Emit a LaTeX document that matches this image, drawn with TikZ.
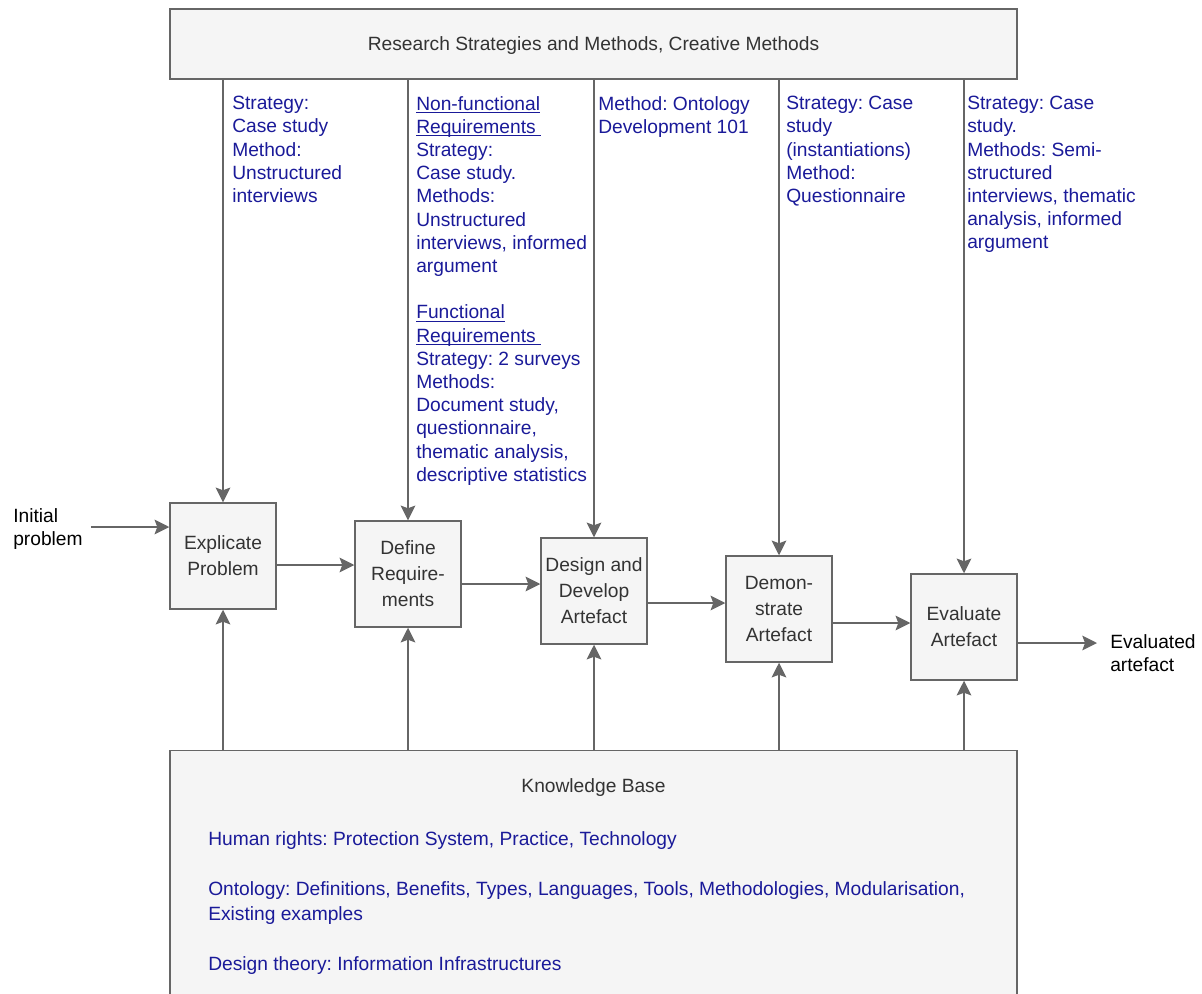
\documentclass[tikz,border=0pt]{standalone}
\usepackage{fontspec}
\setmainfont{Liberation Sans}
\usetikzlibrary{arrows.meta}

\definecolor{linegray}{HTML}{666666}
\definecolor{boxfill}{HTML}{F5F5F5}
\definecolor{boxtext}{HTML}{333333}
\definecolor{notetext}{HTML}{1A1A99}
\newcommand\uln[1]{\underline{\smash{#1}}\vphantom{#1}}
\frenchspacing

\begin{document}
\begin{tikzpicture}
  [x=0.75pt,y=-0.75pt,
   every node/.style={inner sep=0pt,font=\fontsize{14.4}{17.4}\selectfont},
   stage/.style={draw=linegray,fill=boxfill,text=boxtext,line width=1.1pt,
     minimum width=79.5pt,minimum height=79.5pt,align=center,
     font=\fontsize{14.4}{19.5}\selectfont},
   band/.style={draw=linegray,fill=boxfill,text=boxtext,line width=1.1pt,
     minimum width=635.25pt},
   note/.style={anchor=north west,align=left,text=notetext},
   flow/.style={draw=linegray,line width=1.2pt,
     -{Stealth[length=11pt,width=11pt,inset=2pt]}}]
  \path[use as bounding box,clip] (0,0) rectangle (1202,993);

  \node[band,minimum height=52.5pt] (rs) at (593.5,44) {};
  \node[text=boxtext] (rstitle) at (593.5,46)
    {Research Strategies and Methods, Creative Methods};
  \node[band,minimum height=240pt,anchor=north] (kb) at (593.5,750) {};
  \node[text=boxtext] (kbtitle) at (593.5,788) {Knowledge Base};
  \node[note,font=\fontsize{14.4}{18.75}\selectfont] (kbnote) at (208,831)
    {Human rights: Protection System, Practice, Technology\\[18.75pt]
     Ontology: Definitions, Benefits, Types, Languages, Tools, Methodologies, Modularisation,\\
     Existing examples\\[18.75pt]
     Design theory: Information Infrastructures};

  \node[stage] (explicate) at (223,556) {Explicate\\Problem};
  \node[stage] (define)    at (408,574) {Define\\Require-\\ments};
  \node[stage] (design)    at (594,591) {Design and\\Develop\\Artefact};
  \node[stage] (demo)      at (779,609) {Demon-\\strate\\Artefact};
  \node[stage] (evaluate)  at (964,627) {Evaluate\\Artefact};

  \node[note] (note1) at (232,96) {Strategy:\\Case study\\Method:\\Unstructured\\interviews};
  \node[note] (note2) at (416,96) {\uln{Non-functional}\\\uln{Requirements\ }\\Strategy:\\
    Case study.\\Methods:\\Unstructured\\interviews, informed\\argument\\[17.4pt]
    \uln{Functional}\\\uln{Requirements\ }\\Strategy: 2 surveys\\Methods:\\
    Document study,\\questionnaire,\\thematic analysis,\\descriptive statistics};
  \node[note] (note3) at (598,96) {Method: Ontology\\Development 101};
  \node[note] (note4) at (786,96) {Strategy: Case\\study\\(instantiations)\\Method:\\Questionnaire};
  \node[note] (note5) at (967,96) {Strategy: Case\\study.\\Methods: Semi-\\structured\\
    interviews, thematic\\analysis, informed\\argument};

  \node[anchor=west,align=left] (initial)   at (13,529)   {Initial\\problem};
  \node[anchor=west,align=left] (evaluated) at (1110,653) {Evaluated\\artefact};

\foreach \n in {explicate,define,design,demo,evaluate}
{
    \draw[flow] (\n |- rs.south) -- (\n.north);
    \draw[flow] (\n |- kb.north) -- (\n.south);
}

\foreach \from/\to/\y in
{explicate/define/565, define/design/584, design/demo/603, demo/evaluate/623}
    \draw[flow] (\from.east |- 0,\y) -- (\to.west |- 0,\y);

  \draw[flow] ([xshift=6pt]initial.east |- 0,527) -- (explicate.west |- 0,527);
  \draw[flow] (evaluate.east |- 0,643) -- ([xshift=-9.75pt]evaluated.west |- 0,643);

\end{tikzpicture}
\end{document}
